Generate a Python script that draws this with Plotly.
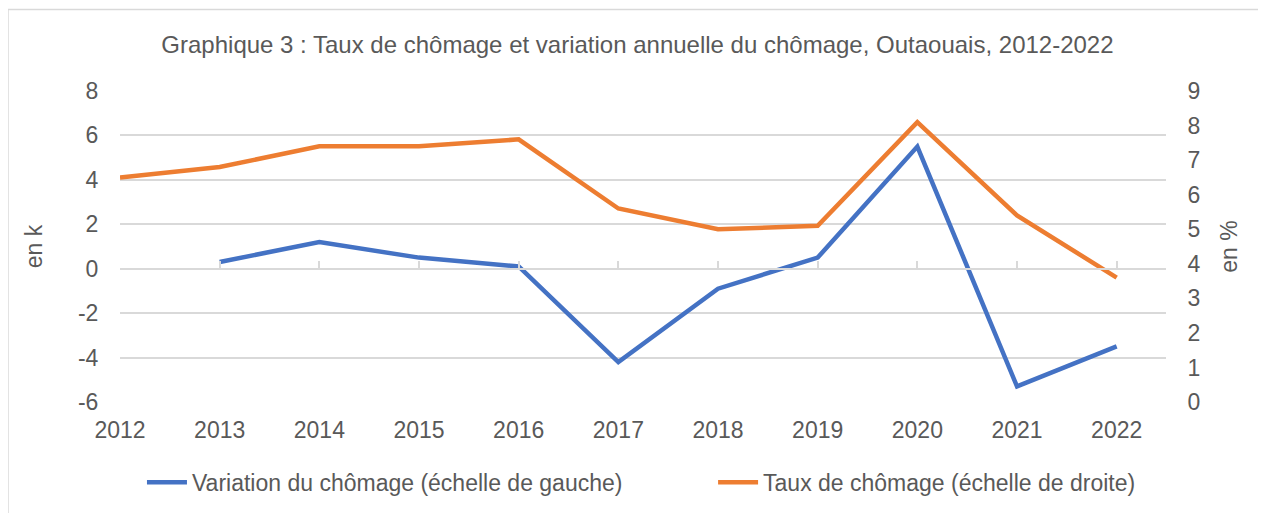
import plotly.graph_objects as go

years = [2012, 2013, 2014, 2015, 2016, 2017, 2018, 2019, 2020, 2021, 2022]
variation_k = [None, 0.3, 1.2, 0.5, 0.1, -4.2, -0.9, 0.5, 5.5, -5.3, -3.5]
taux_pct = [6.5, 6.8, 7.4, 7.4, 7.6, 5.6, 5.0, 5.1, 8.1, 5.4, 3.6]

left_ticks = [-6, -4, -2, 0, 2, 4, 6, 8]
right_ticks = [0, 1, 2, 3, 4, 5, 6, 7, 8, 9]

title_text = "Graphique 3 : Taux de chômage et variation annuelle du chômage, Outaouais, 2012-2022"
name_var = "Variation du chômage (échelle de gauche)"
name_taux = "Taux de chômage (échelle de droite)"

TXT = "#595959"
GRID = "#D9D9D9"
FONT = "Liberation Sans, Arial, sans-serif"
FS = 23

fig = go.Figure()
fig.add_trace(go.Scatter(x=years, y=variation_k, name=name_var, mode="lines",
                         line=dict(color="#4472C4", width=4.5), yaxis="y", legend="legend"))
fig.add_trace(go.Scatter(x=years, y=taux_pct, name=name_taux, mode="lines",
                         line=dict(color="#ED7D31", width=4.5), yaxis="y2", legend="legend2"))

xr = [2012, 2022.495]
leg_common = dict(orientation="h", xanchor="left", y=-0.258, yanchor="middle",
                  font=dict(size=FS, color=TXT), itemwidth=40, bgcolor="rgba(0,0,0,0)")
fig.update_layout(
    width=1258, height=505,
    margin=dict(l=112, r=100, t=83, b=111, autoexpand=False),
    paper_bgcolor="white", plot_bgcolor="white",
    font=dict(family=FONT, size=FS, color=TXT),
    title=dict(text=title_text, x=0.4947, xref="paper", xanchor="center",
               y=1 - 37 / 505, yref="container", yanchor="middle",
               font=dict(family=FONT, size=24, color=TXT)),
    xaxis=dict(range=xr, tickvals=years, ticktext=[str(y) for y in years],
               anchor="free", position=6 / 14, automargin=False,
               showgrid=False, zeroline=False, showline=True, linecolor=GRID, linewidth=1.5,
               ticks="inside", ticklen=7, tickcolor=GRID, tickwidth=1.5,
               ticklabelstandoff=141,
               tickfont=dict(size=FS, color=TXT)),
    yaxis=dict(range=[-6, 8], tickvals=left_ticks, ticktext=[str(v) for v in left_ticks],
               showgrid=True, gridcolor=GRID, gridwidth=1.5, automargin=False,
               zeroline=False, showline=False,
               ticks="outside", ticklen=16, tickcolor="rgba(0,0,0,0)",
               title=dict(text="en k", standoff=28, font=dict(size=FS, color=TXT)),
               tickfont=dict(size=FS, color=TXT)),
    yaxis2=dict(range=[0, 9], tickvals=right_ticks, overlaying="y", side="right",
                showgrid=False, zeroline=False, showline=False, automargin=False,
                ticks="outside", ticklen=16, tickcolor="rgba(0,0,0,0)",
                title=dict(text="en %", standoff=21, font=dict(size=FS, color=TXT)),
                tickfont=dict(size=FS, color=TXT)),
    legend=dict(x=0.021, **leg_common),
    legend2=dict(x=0.567, **leg_common),
    showlegend=True,
    shapes=[dict(type="rect", xref="paper", yref="paper",
                 x0=-0.1071, x1=1.12, y0=-0.4, y1=1.2623,
                 line=dict(color=GRID, width=1.5), fillcolor="rgba(0,0,0,0)", layer="below")],
)

fig.write_html("out.html")
